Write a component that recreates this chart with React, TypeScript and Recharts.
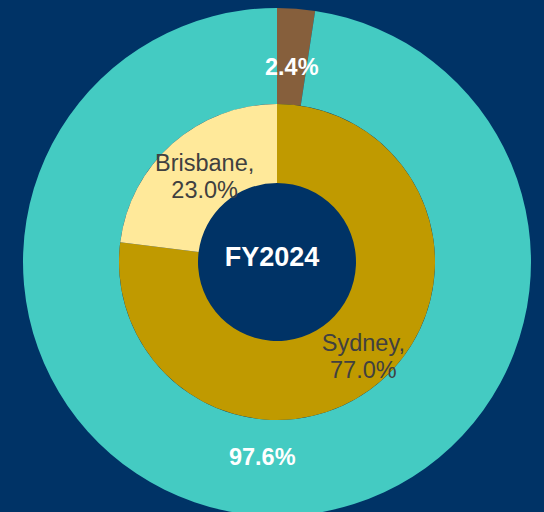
import { Cell, Label, Pie, PieChart } from "recharts"

const outerNames = ["Minor", "Major"]
const outerShares = [2.4, 97.6]
const outerColors = ["#865F3C", "#44CBC2"]

const cities = ["Sydney", "Brisbane"]
const cityShares = [77.0, 23.0]
const cityColors = ["#C09A00", "#FFE99A"]

const centerTitle = "FY2024"

const BG = "#003366"
const RAD = Math.PI / 180

const outerData = outerNames.map((name, i) => ({ name, value: outerShares[i] }))
const innerData = cities.map((name, i) => ({ name, value: cityShares[i] }))

function OuterLabel(props: any) {
  const { cx, cy, midAngle, value } = props
  const r = 196
  const x = cx + r * Math.cos(-midAngle * RAD)
  const y = cy + r * Math.sin(-midAngle * RAD)
  return (
    <text x={x} y={y} fill="#ffffff" fontSize={23.5} fontWeight="bold" textAnchor="middle" dominantBaseline="central">
      {value.toFixed(1)}%
    </text>
  )
}

function InnerLabel(props: any) {
  const { cx, cy, midAngle, value, name } = props
  const r = 120
  // labels sit a little right of the slice midline, like the original
  const x = cx + r * Math.cos(-midAngle * RAD) + 7
  const y = cy + r * Math.sin(-midAngle * RAD)
  return (
    <text x={x} y={y} fill="#404040" fontSize={23.5} textAnchor="middle">
      <tspan x={x} dy={-1}>{name},</tspan>
      <tspan x={x} dy={27}>{value.toFixed(1)}%</tspan>
    </text>
  )
}

export default function App() {
  return (
    <div style={{ width: 544, height: 512, background: BG, fontFamily: "'Liberation Sans', Arial, sans-serif" }}>
      <style>{"body{margin:0}"}</style>
      <PieChart width={544} height={512} margin={{ top: 0, right: 0, bottom: 0, left: 0 }}>
        <Pie
          data={outerData}
          dataKey="value"
          cx={277}
          cy={262}
          innerRadius={158}
          outerRadius={254}
          startAngle={90}
          endAngle={-270}
          stroke="none"
          label={OuterLabel}
          labelLine={false}
          isAnimationActive={false}
        >
          {outerData.map((d, i) => (
            <Cell key={d.name} fill={outerColors[i]} />
          ))}
        </Pie>
        <Pie
          data={innerData}
          dataKey="value"
          cx={277}
          cy={262}
          innerRadius={79}
          outerRadius={158}
          startAngle={90}
          endAngle={-270}
          stroke="none"
          label={InnerLabel}
          labelLine={false}
          isAnimationActive={false}
        >
          {innerData.map((d, i) => (
            <Cell key={d.name} fill={cityColors[i]} />
          ))}
          <Label value={centerTitle} position="center" fill="#ffffff" fontSize={27} fontWeight="bold" />
        </Pie>
      </PieChart>
    </div>
  )
}
